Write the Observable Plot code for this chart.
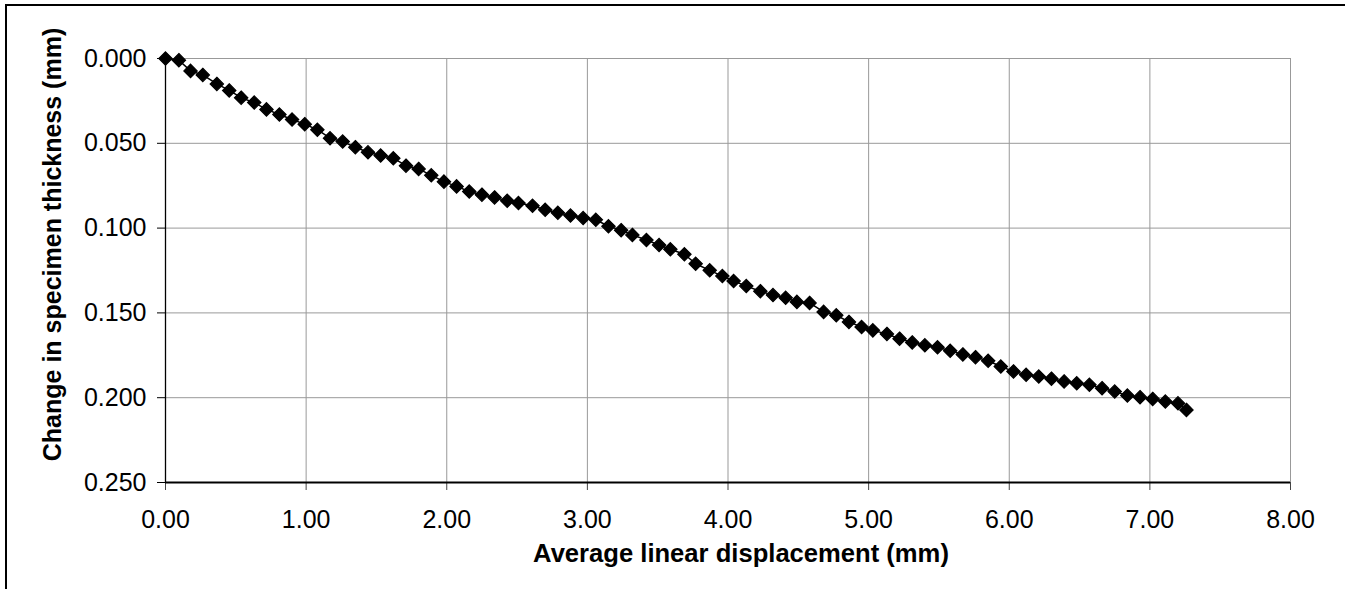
<!DOCTYPE html>
<html>
<head>
<meta charset="utf-8">
<script src="https://cdn.jsdelivr.net/npm/d3@7"></script>
<script src="https://cdn.jsdelivr.net/npm/@observablehq/plot@0.6"></script>
<style>
  html, body { margin: 0; padding: 0; background: #fff; overflow: hidden; }
  #wrap { position: relative; width: 1345px; height: 589px; }
  #frame { position: absolute; left: 5px; top: 4px; width: 2000px; height: 1000px;
           border-left: 2px solid #000; border-top: 2px solid #000; pointer-events: none; }
  svg { display: block; }
</style>
</head>
<body>
<div id="wrap"><div id="frame"></div></div>
<script>
const xTitle = "Average linear displacement (mm)";
const yTitle = "Change in specimen thickness (mm)";
const xTicks = [0, 1, 2, 3, 4, 5, 6, 7, 8];
const yTicks = [0, 0.05, 0.10, 0.15, 0.20, 0.25];

const displacement = [0, 0.095, 0.178, 0.265, 0.365, 0.453, 0.538, 0.631, 0.718, 0.81,
  0.90, 0.99, 1.08, 1.17, 1.26, 1.35, 1.44, 1.53, 1.62, 1.71,
  1.80, 1.89, 1.98, 2.07, 2.16, 2.25, 2.34, 2.43, 2.51, 2.61,
  2.70, 2.79, 2.88, 2.97, 3.06, 3.15, 3.24, 3.32, 3.42, 3.51,
  3.59, 3.69, 3.77, 3.87, 3.96, 4.04, 4.13, 4.23, 4.32, 4.41,
  4.49, 4.58, 4.68, 4.77, 4.86, 4.95, 5.03, 5.13, 5.22, 5.31,
  5.40, 5.49, 5.58, 5.67, 5.76, 5.85, 5.94, 6.03, 6.12, 6.21,
  6.30, 6.39, 6.48, 6.57, 6.66, 6.75, 6.84, 6.93, 7.02, 7.11,
  7.20, 7.26];
const thickness = [0, 0.001, 0.0073, 0.0097, 0.015, 0.0188, 0.0231, 0.026, 0.030, 0.033,
  0.036, 0.0387, 0.042, 0.047, 0.049, 0.0523, 0.0553, 0.0572, 0.0588, 0.0632,
  0.0651, 0.0689, 0.0726, 0.0754, 0.0784, 0.0803, 0.0819, 0.0839, 0.0852, 0.0868,
  0.0892, 0.091, 0.0926, 0.0941, 0.0951, 0.0989, 0.1012, 0.104, 0.107, 0.110,
  0.1125, 0.1154, 0.121, 0.1249, 0.1283, 0.1312, 0.1342, 0.1372, 0.1395, 0.1411,
  0.1435, 0.1441, 0.1494, 0.1514, 0.1553, 0.1583, 0.1603, 0.1624, 0.1652, 0.1674,
  0.1691, 0.1703, 0.1723, 0.1745, 0.1761, 0.1782, 0.1816, 0.1845, 0.1865, 0.1875,
  0.1888, 0.1904, 0.1915, 0.1924, 0.1944, 0.1964, 0.1987, 0.1997, 0.2007, 0.2023,
  0.2033, 0.2072];

const points = displacement.map((d, i) => ({x: d, y: thickness[i]}));

const chart = Plot.plot({
  width: 1345,
  height: 589,
  marginLeft: 165,
  marginRight: 55,
  marginTop: 58,
  marginBottom: 107,
  style: {fontFamily: "Arial, 'Liberation Sans', sans-serif", fontSize: "25px", color: "#000", background: "transparent", overflow: "visible"},
  x: {domain: [0, 8]},
  y: {domain: [0, 0.25], reverse: true},
  marks: [
    Plot.gridX(xTicks.slice(1), {stroke: "#999", strokeOpacity: 1, strokeWidth: 1}),
    Plot.gridY(yTicks.slice(0, -1), {stroke: "#999", strokeOpacity: 1, strokeWidth: 1}),
    Plot.axisX(xTicks, {tickSize: 8, tickPadding: 20, tickFormat: d3.format(".2f"), label: null, stroke: "#444"}),
    Plot.axisY(yTicks, {tickSize: 8, tickPadding: 11, tickFormat: d3.format(".3f"), label: null, stroke: "#000"}),
    Plot.ruleX([0], {stroke: "#000", strokeWidth: 1.3}),
    Plot.ruleY([0.25], {stroke: "#000", strokeWidth: 2}),
    Plot.line(points, {x: "x", y: "y", stroke: "#000", strokeWidth: 1.5}),
    Plot.dot(points, {x: "x", y: "y", symbol: "diamond2", r: 6, fill: "#000", stroke: "#000", strokeWidth: 1.2}),
    Plot.text([xTitle], {frameAnchor: "bottom", text: d => d, textAnchor: "middle", lineAnchor: "top", dx: 13, dy: 61, fontWeight: "bold", fontSize: 25.6, fill: "#000"}),
    Plot.text([yTitle], {frameAnchor: "left", text: d => d, textAnchor: "middle", rotate: -90, lineAnchor: "top", dx: -122, dy: -26, fontWeight: "bold", fontSize: 25, fill: "#000"})
  ]
});
document.getElementById("wrap").insertBefore(chart, document.getElementById("frame"));
</script>
</body>
</html>
